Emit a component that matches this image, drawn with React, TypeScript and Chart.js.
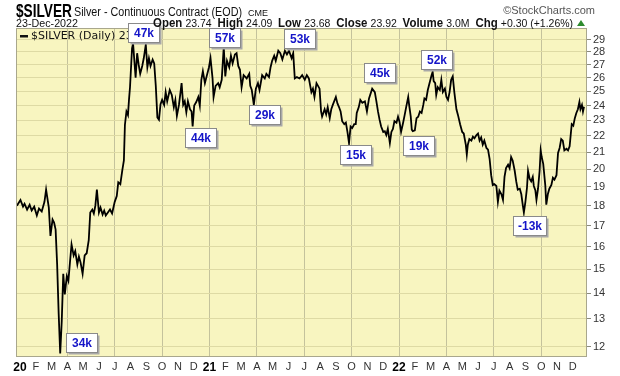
import { useEffect, useRef } from "react";
import { Chart, registerables } from "chart.js";
Chart.register(...registerables);

// Daily close of $SILVER (traced), ISO date + price
const silver2020: [string, number][] = [
  ["2019-12-26", 18.0], ["2020-01-02", 18.3], ["2020-01-07", 17.95], ["2020-01-10", 18.1], ["2020-01-15", 17.8],
  ["2020-01-20", 18.05], ["2020-01-24", 17.75], ["2020-01-29", 17.95], ["2020-02-03", 17.5], ["2020-02-07", 17.85],
  ["2020-02-12", 17.7], ["2020-02-17", 18.2], ["2020-02-20", 18.85], ["2020-02-25", 17.9], ["2020-02-28", 16.5],
  ["2020-03-03", 17.3], ["2020-03-06", 17.15], ["2020-03-09", 16.8], ["2020-03-12", 15.2], ["2020-03-15", 13.2],
  ["2020-03-18", 11.77], ["2020-03-21", 12.9], ["2020-03-24", 14.8], ["2020-03-27", 13.95], ["2020-03-31", 14.7],
  ["2020-04-03", 14.5], ["2020-04-06", 15.3], ["2020-04-09", 16.1], ["2020-04-13", 15.6], ["2020-04-16", 15.8],
  ["2020-04-20", 15.2], ["2020-04-23", 15.55], ["2020-04-26", 15.3], ["2020-04-30", 14.8], ["2020-05-04", 15.6],
  ["2020-05-08", 15.7], ["2020-05-12", 16.3], ["2020-05-15", 17.65], ["2020-05-19", 17.8], ["2020-05-22", 17.6],
  ["2020-05-25", 18.0], ["2020-05-28", 18.85], ["2020-06-01", 17.65], ["2020-06-04", 17.9], ["2020-06-08", 17.55],
  ["2020-06-11", 17.75], ["2020-06-14", 17.5], ["2020-06-18", 17.65], ["2020-06-22", 17.8], ["2020-06-26", 17.6],
  ["2020-07-01", 18.2], ["2020-07-05", 18.5], ["2020-07-08", 19.25], ["2020-07-12", 19.15], ["2020-07-16", 19.95],
  ["2020-07-19", 20.5], ["2020-07-21", 22.7], ["2020-07-24", 23.6], ["2020-07-27", 23.35], ["2020-07-29", 24.4],
  ["2020-07-31", 25.3], ["2020-08-04", 28.3], ["2020-08-06", 28.7], ["2020-08-11", 26.0], ["2020-08-14", 27.9],
  ["2020-08-17", 27.0], ["2020-08-20", 26.3], ["2020-08-24", 26.9], ["2020-08-27", 27.5], ["2020-08-31", 28.6],
  ["2020-09-03", 26.8], ["2020-09-06", 27.5], ["2020-09-09", 26.9], ["2020-09-13", 27.4], ["2020-09-16", 27.1],
  ["2020-09-19", 25.4], ["2020-09-22", 23.2], ["2020-09-25", 23.05], ["2020-09-28", 24.1], ["2020-10-01", 24.4],
  ["2020-10-05", 24.05], ["2020-10-08", 24.95], ["2020-10-11", 24.3], ["2020-10-16", 25.1], ["2020-10-20", 24.75],
  ["2020-10-24", 23.9], ["2020-10-27", 24.4], ["2020-10-30", 23.3], ["2020-11-03", 24.05], ["2020-11-06", 24.95],
  ["2020-11-08", 25.6], ["2020-11-11", 24.05], ["2020-11-14", 24.3], ["2020-11-17", 23.55], ["2020-11-20", 24.3],
  ["2020-11-24", 23.75], ["2020-11-27", 23.6], ["2020-11-29", 22.6], ["2020-12-02", 24.0], ["2020-12-06", 24.25],
  ["2020-12-10", 24.6], ["2020-12-13", 24.0], ["2020-12-16", 25.85], ["2020-12-19", 26.5], ["2020-12-23", 25.6],
  ["2020-12-27", 26.2], ["2020-12-31", 26.8],
];

const silver2021: [string, number][] = [
  ["2021-01-03", 27.5], ["2021-01-07", 25.95], ["2021-01-09", 24.6], ["2021-01-13", 25.4], ["2021-01-18", 25.6],
  ["2021-01-21", 25.3], ["2021-01-25", 25.85], ["2021-01-29", 28.4], ["2021-02-01", 26.1], ["2021-02-04", 27.3],
  ["2021-02-08", 26.8], ["2021-02-11", 27.7], ["2021-02-14", 27.1], ["2021-02-18", 27.8], ["2021-02-21", 27.9],
  ["2021-02-24", 26.9], ["2021-02-27", 26.6], ["2021-03-02", 25.3], ["2021-03-06", 26.2], ["2021-03-12", 25.95],
  ["2021-03-17", 26.3], ["2021-03-19", 25.4], ["2021-03-22", 25.1], ["2021-03-26", 24.05], ["2021-03-30", 25.2],
  ["2021-04-03", 25.6], ["2021-04-06", 25.1], ["2021-04-11", 26.2], ["2021-04-16", 25.95], ["2021-04-19", 26.3],
  ["2021-04-24", 26.05], ["2021-04-27", 26.8], ["2021-04-30", 27.3], ["2021-05-04", 27.7], ["2021-05-07", 27.3],
  ["2021-05-12", 28.1], ["2021-05-16", 27.9], ["2021-05-20", 27.4], ["2021-05-25", 28.1], ["2021-05-29", 27.8],
  ["2021-06-02", 28.1], ["2021-06-07", 27.5], ["2021-06-10", 27.9], ["2021-06-13", 25.95], ["2021-06-17", 26.05],
  ["2021-06-22", 25.95], ["2021-06-27", 26.2], ["2021-07-02", 25.85], ["2021-07-06", 26.2], ["2021-07-10", 25.95],
  ["2021-07-15", 24.95], ["2021-07-18", 25.2], ["2021-07-21", 24.6], ["2021-07-25", 25.6], ["2021-07-28", 25.4],
  ["2021-07-31", 25.2], ["2021-08-03", 23.6], ["2021-08-05", 23.25], ["2021-08-10", 23.75], ["2021-08-13", 23.4],
  ["2021-08-16", 23.9], ["2021-08-20", 23.15], ["2021-08-23", 23.75], ["2021-08-26", 24.05], ["2021-09-01", 24.6],
  ["2021-09-04", 24.15], ["2021-09-07", 23.9], ["2021-09-10", 23.6], ["2021-09-13", 22.95], ["2021-09-17", 22.75],
  ["2021-09-20", 22.85], ["2021-09-23", 22.25], ["2021-09-26", 21.55], ["2021-09-29", 22.6], ["2021-10-02", 22.5],
  ["2021-10-06", 22.75], ["2021-10-09", 22.75], ["2021-10-11", 23.5], ["2021-10-15", 23.9], ["2021-10-18", 24.4],
  ["2021-10-22", 24.2], ["2021-10-27", 24.3], ["2021-10-31", 23.6], ["2021-11-04", 24.5], ["2021-11-10", 25.2],
  ["2021-11-15", 24.95], ["2021-11-18", 24.3], ["2021-11-21", 23.6], ["2021-11-24", 23.05], ["2021-11-27", 22.6],
  ["2021-12-01", 22.25], ["2021-12-04", 22.3], ["2021-12-07", 22.05], ["2021-12-10", 22.45], ["2021-12-14", 21.55],
  ["2021-12-17", 22.25], ["2021-12-20", 22.45], ["2021-12-23", 22.95], ["2021-12-27", 22.85], ["2021-12-30", 23.25],
];

const silver2022: [string, number][] = [
  ["2022-01-02", 22.9], ["2022-01-05", 22.25], ["2022-01-09", 22.85], ["2022-01-12", 23.35], ["2022-01-15", 23.9],
  ["2022-01-19", 24.6], ["2022-01-21", 24.0], ["2022-01-24", 23.25], ["2022-01-26", 22.4], ["2022-01-28", 22.3],
  ["2022-02-01", 22.35], ["2022-02-04", 23.15], ["2022-02-07", 23.25], ["2022-02-10", 23.6], ["2022-02-13", 23.5],
  ["2022-02-16", 24.05], ["2022-02-18", 24.5], ["2022-02-21", 24.4], ["2022-02-24", 25.1], ["2022-02-27", 25.6],
  ["2022-03-03", 26.2], ["2022-03-05", 26.45], ["2022-03-07", 25.75], ["2022-03-10", 25.6], ["2022-03-12", 24.75],
  ["2022-03-15", 25.3], ["2022-03-19", 25.1], ["2022-03-22", 25.85], ["2022-03-25", 24.95], ["2022-03-29", 25.2],
  ["2022-04-01", 24.6], ["2022-04-04", 24.4], ["2022-04-07", 24.95], ["2022-04-10", 25.85], ["2022-04-13", 26.1],
  ["2022-04-16", 24.95], ["2022-04-20", 23.75], ["2022-04-23", 23.35], ["2022-04-27", 22.75], ["2022-05-01", 22.25],
  ["2022-05-04", 22.15], ["2022-05-08", 21.45], ["2022-05-10", 20.85], ["2022-05-12", 21.45], ["2022-05-15", 21.8],
  ["2022-05-19", 21.7], ["2022-05-22", 21.95], ["2022-05-25", 21.85], ["2022-05-29", 22.05], ["2022-06-01", 22.15],
  ["2022-06-04", 21.7], ["2022-06-07", 21.9], ["2022-06-10", 21.45], ["2022-06-13", 21.7], ["2022-06-17", 21.25],
  ["2022-06-20", 21.15], ["2022-06-23", 20.6], ["2022-06-26", 19.65], ["2022-06-29", 19.1], ["2022-07-02", 19.15],
  ["2022-07-06", 19.05], ["2022-07-09", 18.2], ["2022-07-12", 18.8], ["2022-07-16", 18.6], ["2022-07-19", 18.3],
  ["2022-07-22", 19.55], ["2022-07-25", 20.05], ["2022-07-29", 20.25], ["2022-08-01", 20.05], ["2022-08-04", 20.7],
  ["2022-08-07", 20.5], ["2022-08-11", 19.9], ["2022-08-14", 19.3], ["2022-08-17", 18.85], ["2022-08-21", 18.9],
  ["2022-08-24", 18.6], ["2022-08-27", 18.0], ["2022-08-29", 17.65], ["2022-09-01", 18.2], ["2022-09-04", 18.95],
  ["2022-09-06", 19.9], ["2022-09-09", 19.45], ["2022-09-12", 19.3], ["2022-09-15", 19.55], ["2022-09-17", 19.05],
  ["2022-09-20", 18.8], ["2022-09-22", 18.3], ["2022-09-25", 18.9], ["2022-09-28", 19.9], ["2022-09-30", 21.1],
  ["2022-10-02", 20.7], ["2022-10-05", 20.3], ["2022-10-09", 19.1], ["2022-10-11", 18.05], ["2022-10-14", 18.6],
  ["2022-10-17", 18.9], ["2022-10-21", 19.1], ["2022-10-24", 19.5], ["2022-10-27", 19.4], ["2022-10-31", 19.65],
  ["2022-11-03", 20.95], ["2022-11-06", 21.25], ["2022-11-09", 21.8], ["2022-11-12", 21.7], ["2022-11-15", 21.1],
  ["2022-11-19", 21.2], ["2022-11-22", 21.1], ["2022-11-25", 21.35], ["2022-11-27", 22.05], ["2022-11-29", 22.75],
  ["2022-12-02", 22.65], ["2022-12-05", 23.15], ["2022-12-08", 23.5], ["2022-12-11", 23.75], ["2022-12-14", 24.25],
  ["2022-12-16", 23.75], ["2022-12-19", 24.05], ["2022-12-21", 23.6], ["2022-12-23", 23.92],
];

const priceTicks = [12, 13, 14, 15, 16, 17, 18, 19, 20, 21, 22, 23, 24, 25, 26, 27, 28, 29];
const monthLetters = ["J", "F", "M", "A", "M", "J", "J", "A", "S", "O", "N", "D"];
const yearLabels = ["20", "21", "22"];

// annotation boxes: anchor date/price, text, box above or below the anchor
const noteDates = ["2020-08-27", "2021-01-30", "2021-06-22", "2020-12-14", "2021-04-15", "2021-11-23", "2021-10-09", "2022-03-12", "2022-02-08", "2022-09-09", "2020-04-27"];
const notePrices = [28.8, 28.4, 28.3, 22.5, 24.05, 25.7, 21.4, 26.65, 22.0, 17.48, 12.49];
const noteTexts = ["47k", "57k", "53k", "44k", "29k", "45k", "15k", "52k", "19k", "-13k", "34k"];
const noteSides = ["above", "above", "above", "below", "below", "above", "below", "above", "below", "below", "below"];

const symbol = "$SILVER";
const title = "Silver - Continuous Contract (EOD)";
const exchange = "CME";
const lastDate = "23-Dec-2022";
const quoteLabels = ["Open", "High", "Low", "Close", "Volume", "Chg"];
const quoteValues = ["23.74", "24.09", "23.68", "23.92", "3.0M", "+0.30 (+1.26%)"];
const legendText = "$SILVER (Daily) 23.92";

const SANS = "'Liberation Sans', Arial, sans-serif";

function monthPos(d: string): number {
  const [y, m, day] = d.split("-").map(Number);
  const dim = new Date(y, m, 0).getDate();
  return (y - 2020) * 12 + (m - 1) + (day - 1) / dim;
}

export default function App() {
  const ref = useRef<HTMLCanvasElement>(null);
  useEffect(() => {
    document.body.style.margin = "0";
    const points = [...silver2020, ...silver2021, ...silver2022].map(([d, v]) => ({ x: monthPos(d), y: v }));

    const bgPlugin = {
      id: "bg",
      beforeDraw(chart: any) {
        const { ctx, chartArea: a } = chart;
        ctx.save();
        ctx.fillStyle = "#ffffff";
        ctx.fillRect(0, 0, chart.width, chart.height);
        ctx.fillStyle = "#f8f5c0";
        ctx.fillRect(a.left, a.top, a.right - a.left, a.bottom - a.top);
        ctx.restore();
      },
    };

    const overlayPlugin = {
      id: "overlay",
      afterDraw(chart: any) {
        const { ctx, chartArea: a } = chart;
        const xs = chart.scales.x;
        const ys = chart.scales.y;
        ctx.save();
        // frame
        ctx.strokeStyle = "#a9a78c";
        ctx.lineWidth = 1;
        ctx.strokeRect(a.left + 0.5, a.top + 0.5, a.right - a.left - 1, a.bottom - a.top - 1);

        // legend
        ctx.fillStyle = "#111";
        ctx.fillRect(a.left + 4, a.top + 7, 8, 2.5);
        ctx.font = "11px 'DejaVu Sans', sans-serif";
        ctx.textBaseline = "middle";
        ctx.textAlign = "left";
        ctx.fillText(legendText, a.left + 15, a.top + 8.5);

        // notes
        for (let i = 0; i < noteTexts.length; i++) {
          const cx = xs.getPixelForValue(monthPos(noteDates[i]));
          const ey = ys.getPixelForValue(notePrices[i]);
          const w = noteTexts[i].length > 3 ? 33 : 31;
          const h = 19;
          const x = Math.round(cx - w / 2) + 0.5;
          const y = Math.round(noteSides[i] === "above" ? ey - h : ey) + 0.5;
          ctx.fillStyle = "#a8a8a8";
          ctx.fillRect(x + 2, y + 2, w, h);
          ctx.fillStyle = "#ffffff";
          ctx.fillRect(x, y, w, h);
          ctx.strokeStyle = "#8a8a8a";
          ctx.strokeRect(x, y, w, h);
          ctx.fillStyle = "#1414c8";
          ctx.font = `bold 12px ${SANS}`;
          ctx.textAlign = "center";
          ctx.textBaseline = "middle";
          ctx.fillText(noteTexts[i], x + w / 2, y + h / 2 + 0.5);
        }

        // header row 1
        ctx.textAlign = "left";
        ctx.textBaseline = "alphabetic";
        ctx.fillStyle = "#000";
        ctx.font = `bold 18px ${SANS}`;
        ctx.fillText(symbol, 16, 17, 56);
        ctx.font = `12px ${SANS}`;
        ctx.fillStyle = "#111";
        ctx.fillText(title, 74, 16, 168);
        ctx.font = `9px ${SANS}`;
        ctx.fillText(exchange, 248, 16, 22);
        ctx.fillStyle = "#555";
        ctx.font = `11px ${SANS}`;
        ctx.textAlign = "right";
        ctx.fillText("\u00a9StockCharts.com", 595, 14);

        // header row 2
        ctx.textAlign = "left";
        ctx.fillStyle = "#111";
        ctx.font = `11px ${SANS}`;
        ctx.fillText(lastDate, 16, 27, 62);
        const segs: [string, string][] = [];
        for (let i = 0; i < quoteLabels.length; i++) {
          segs.push([quoteLabels[i] + " ", `bold 12px ${SANS}`]);
          segs.push([quoteValues[i] + (i < quoteLabels.length - 1 ? "  " : " "), `11px ${SANS}`]);
        }
        let total = 0;
        for (const [t, f] of segs) { ctx.font = f; total += ctx.measureText(t).width; }
        const arrowW = 9;
        const span = 585 - 153 - arrowW;
        const k = span / total;
        ctx.save();
        ctx.translate(153, 27);
        ctx.scale(k, 1);
        let cx = 0;
        for (const [t, f] of segs) { ctx.font = f; ctx.fillText(t, cx, 0); cx += ctx.measureText(t).width; }
        ctx.restore();
        // up arrow
        ctx.fillStyle = "#2e8b2e";
        ctx.beginPath();
        ctx.moveTo(577, 26);
        ctx.lineTo(585, 26);
        ctx.lineTo(581, 20);
        ctx.closePath();
        ctx.fill();
        ctx.restore();
      },
    };

    const chart = new Chart(ref.current!, {
      type: "line",
      data: {
        datasets: [
          {
            data: points,
            borderColor: "#000",
            borderWidth: 1.8,
            pointRadius: 0,
            tension: 0,
            fill: false,
          },
        ],
      },
      options: {
        responsive: false,
        animation: false,
        devicePixelRatio: 1,
        layout: { padding: { top: 28, left: 16, right: 0, bottom: 0 } },
        plugins: { legend: { display: false }, tooltip: { enabled: false } },
        scales: {
          x: {
            type: "linear",
            min: -0.25,
            max: 35.9,
            afterFit: (s: any) => { s.height = 19; },
            afterBuildTicks: (s: any) => {
              s.ticks = Array.from({ length: 36 }, (_, i) => ({ value: i }));
            },
            border: { display: false },
            grid: {
              drawTicks: false,
              color: (c: any) => (c.tick && c.tick.value % 3 === 0 && c.tick.value > 0 ? "#c4c29c" : "rgba(0,0,0,0)"),
              lineWidth: 1,
            },
            ticks: {
              autoSkip: false,
              maxRotation: 0,
              padding: 3,
              color: (c: any) => (c.tick && c.tick.value % 12 === 0 ? "#000" : "#333"),
              font: (c: any) =>
                c.tick && c.tick.value % 12 === 0
                  ? { family: SANS, size: 12, weight: "bold" }
                  : { family: SANS, size: 11 },
              callback: (v: any) => {
                const n = Math.round(Number(v));
                return n % 12 === 0 ? yearLabels[n / 12] : monthLetters[n % 12];
              },
            },
          },
          y: {
            type: "logarithmic",
            position: "right",
            min: 11.65,
            max: 30,
            afterFit: (s: any) => { s.width = 33; },
            afterBuildTicks: (s: any) => {
              s.ticks = priceTicks.map((v) => ({ value: v }));
            },
            border: { display: false },
            grid: { color: "#dedaa4", lineWidth: 1, drawTicks: true, tickLength: 4, tickColor: "#8a8a7a" },
            ticks: {
              padding: 2,
              color: "#333",
              font: { family: SANS, size: 11 },
              callback: (v: any) => String(v),
            },
          },
        },
      },
      plugins: [bgPlugin, overlayPlugin],
    } as any);
    return () => chart.destroy();
  }, []);
  return (
    <div style={{ position: "fixed", left: 0, top: 0, width: 620, height: 376, background: "#fff" }}>
      <canvas ref={ref} width={620} height={376} style={{ display: "block", width: 620, height: 376 }} />
    </div>
  );
}
